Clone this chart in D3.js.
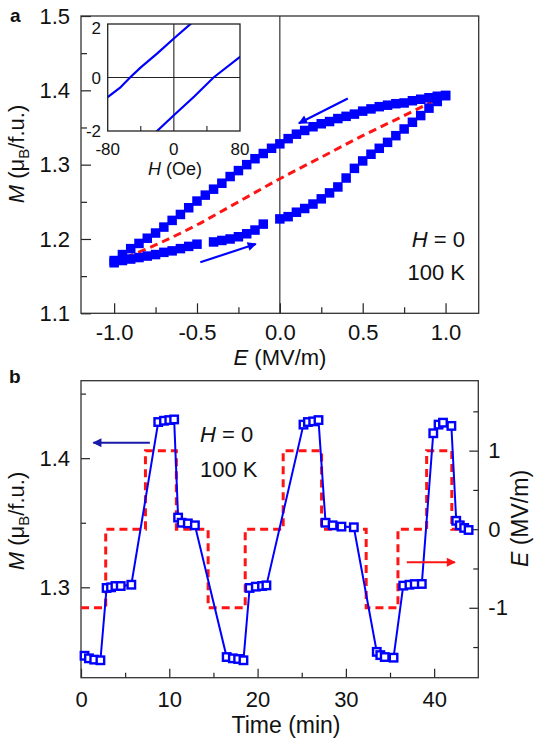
<!DOCTYPE html>
<html><head><meta charset="utf-8">
<script src="https://cdn.jsdelivr.net/npm/d3@7"></script>
<style>
body{margin:0;background:#fff}
svg{display:block}
text{font-family:"Liberation Sans",Arial,Helvetica,sans-serif;fill:#111}
</style>
</head><body>
<svg id="c" width="538" height="744"></svg>
<script>
// ---------- Panel a data ----------
const upperE = [1.00,0.95,0.90,0.85,0.80,0.75,0.70,0.65,0.60,0.55,0.50,0.45,0.40,0.35,0.30,0.25,0.20,0.15,0.10,0.05,0.00,-0.05,-0.10,-0.15,-0.20,-0.25,-0.30,-0.35,-0.40,-0.45,-0.50,-0.55,-0.60,-0.65,-0.70,-0.75,-0.80,-0.85,-0.90,-0.95,-1.00];
const upperM = [1.393,1.392,1.390,1.388,1.386,1.383,1.382,1.380,1.378,1.375,1.372,1.368,1.365,1.362,1.358,1.355,1.351,1.346,1.341,1.335,1.328,1.322,1.315,1.308,1.300,1.292,1.284,1.275,1.267,1.259,1.251,1.242,1.233,1.225,1.216,1.208,1.201,1.194,1.187,1.179,1.171];
const lowerE = [-1.00,-0.95,-0.90,-0.85,-0.80,-0.75,-0.70,-0.65,-0.60,-0.55,-0.50,-0.40,-0.35,-0.30,-0.25,-0.20,-0.15,-0.10,0.00,0.05,0.10,0.15,0.20,0.25,0.30,0.35,0.40,0.45,0.50,0.55,0.60,0.65,0.70,0.75,0.80,0.85,0.90,0.95,1.00];
const lowerM = [1.168,1.171,1.173,1.175,1.177,1.179,1.182,1.184,1.187,1.190,1.193,1.196,1.198,1.200,1.203,1.207,1.212,1.220,1.227,1.230,1.236,1.241,1.247,1.254,1.262,1.270,1.282,1.295,1.305,1.314,1.322,1.330,1.339,1.348,1.357,1.366,1.376,1.385,1.393];
const avgE = [-1.0,-0.75,-0.5,-0.25,0.0,0.25,0.5,0.75,0.975];
const avgM = [1.169,1.192,1.219,1.250,1.281,1.310,1.339,1.366,1.391];
const xTicksA = [-1.0,-0.5,0.0,0.5,1.0];
const xMinorA = [-0.75,-0.25,0.25,0.75];
const yTicksA = [1.1,1.2,1.3,1.4,1.5];
const yMinorA = [1.15,1.25,1.35,1.45];
// arrows (data coords) [E0,M0,E1,M1]
const arrowsA = [[0.41,1.389,0.115,1.3557],[-0.48,1.1686,-0.145,1.1933]];

// ---------- Inset data ----------
const insetUpH = [-85,-80,-65,-53,-40,-20,0,22];
const insetUpM = [-0.87,-0.73,-0.38,0.0,0.38,0.90,1.46,2.05];
const insetLoH = [-22,0,25,48,80,85];
const insetLoM = [-2.05,-1.41,-0.70,0.0,0.77,0.89];
const insetXTicks = [-80,0,80];
const insetXMinor = [-40,40];
const insetYTicks = [-2,0,2];

// ---------- Panel b data ----------
const timeB = [0.4,0.9,1.5,2.2, 2.9,3.4,3.9,4.5,5.7, 8.75,9.4,10.0,10.55, 11.0,11.4,12.1,12.9, 16.5,17.2,17.8,18.4, 19.1,19.8,20.5,21.0, 25.2,25.7,26.3,26.9, 27.7,28.5,29.5,30.9, 33.5,33.9,34.4,35.4, 36.5,37.2,37.8,38.6, 39.9,40.5,41.0,41.95, 42.5,42.9,43.4,43.9];
const magB  = [1.247,1.245,1.244,1.2435, 1.2995,1.300,1.301,1.301,1.302, 1.428,1.429,1.4295,1.430, 1.354,1.350,1.3495,1.348, 1.246,1.245,1.2445,1.2435, 1.2995,1.3005,1.301,1.3015, 1.426,1.428,1.4285,1.4295, 1.350,1.348,1.347,1.3465, 1.250,1.2475,1.246,1.2455, 1.3013,1.302,1.3025,1.3026, 1.4193,1.426,1.4275,1.425, 1.3515,1.348,1.346,1.3444];
const stepT = [0,2.8,7.3,10.8,14.4,18.6,22.9,27.25,32.3,35.9,39.15,42.0,44.25];
const stepE = [-1,0,1,0,-1,0,1,0,-1,0,1,0,0];
const xTicksB = [0,10,20,30,40];
const xMinorB = [5,15,25,35];
const yTicksBL = [1.3,1.4];
const yMinorBL = [1.25,1.35,1.45];
const yTicksBR = [-1,0,1];
const yMinorBR = [-1.5,-0.5,0.5,1.5];
const arrowBL = [7.8,1.412,1.4,1.412];
const arrowBR = [36.9,-0.42,42.35,-0.42];

// ---------- Drawing ----------
const svg = d3.select("#c");
const BLUE = "#0000ff", RED = "#ff1414", AX = "#222";
const defs = svg.append("defs");
function marker(id,color,w,h){
  defs.append("marker").attr("id",id).attr("viewBox","0 0 10 10").attr("refX",9).attr("refY",5)
    .attr("markerWidth",w).attr("markerHeight",h).attr("orient","auto").attr("markerUnits","userSpaceOnUse")
    .append("path").attr("d","M0,0L10,5L0,10Z").attr("fill",color);
}
marker("ab",BLUE,13,9); marker("abl","#1a1aa8",13,9); marker("ar",RED,13,9);

function drawAxis(parent, gen, scale, majors, minors, len, minLen, fmt, pad, fs){
  const gM = parent.append("g").call(gen(scale).tickValues(majors).tickSize(-len).tickPadding(pad).tickFormat(fmt));
  const gm = parent.append("g").call(gen(scale).tickValues(minors).tickSize(-minLen).tickFormat(""));
  [gM,gm].forEach(g=>{g.select(".domain").remove(); g.selectAll("line").attr("stroke",AX).attr("stroke-width",1.2);});
  gM.selectAll("text").attr("font-size",fs);
  return gM;
}
const f1 = d=>d.toFixed(1), f0 = d=>String(d);

// ===== Panel a =====
const xA = d3.scaleLinear([-1.2,1.2],[81,478.7]);
const yA = d3.scaleLinear([1.1,1.5],[313.3,16]);
const gA = svg.append("g");
drawAxis(gA.append("g").attr("transform",`translate(0,${yA(1.1)})`), d3.axisBottom, xA, xTicksA, xMinorA, 10, 6, f1, 11, 22);
drawAxis(gA.append("g").attr("transform",`translate(${xA(-1.2)},0)`), d3.axisLeft, yA, yTicksA, yMinorA, 10, 6, f1, 11, 22);
// zero line
gA.append("line").attr("x1",xA(0)).attr("x2",xA(0)).attr("y1",yA(1.1)).attr("y2",yA(1.5)).attr("stroke",AX).attr("stroke-width",1.1);
// frame
gA.append("rect").attr("x",xA(-1.2)).attr("y",yA(1.5)).attr("width",xA(1.2)-xA(-1.2)).attr("height",yA(1.1)-yA(1.5))
  .attr("fill","none").attr("stroke","#333").attr("stroke-width",1.3);
// average dashed
gA.append("path").datum(avgE.map((e,i)=>[e,avgM[i]]))
  .attr("d",d3.line().x(d=>xA(d[0])).y(d=>yA(d[1])).curve(d3.curveMonotoneX))
  .attr("fill","none").attr("stroke",RED).attr("stroke-width",3).attr("stroke-dasharray","8,5");
// squares
const sq = 9.5;
const ptsA = upperE.map((e,i)=>[e,upperM[i]]).concat(lowerE.map((e,i)=>[e,lowerM[i]]));
gA.append("g").selectAll("rect").data(ptsA).join("rect")
  .attr("x",d=>xA(d[0])-sq/2).attr("y",d=>yA(d[1])-sq/2).attr("width",sq).attr("height",sq).attr("fill",BLUE);
// arrows
arrowsA.forEach(a=>{
  gA.append("line").attr("x1",xA(a[0])).attr("y1",yA(a[1])).attr("x2",xA(a[2])).attr("y2",yA(a[3]))
    .attr("stroke",BLUE).attr("stroke-width",2.2).attr("marker-end","url(#ab)");
});
// labels
const tA = gA.append("text").attr("x",465).attr("y",246.7).attr("text-anchor","end").attr("font-size",22);
tA.append("tspan").attr("font-style","italic").text("H");
tA.append("tspan").text(" = 0");
gA.append("text").attr("x",465).attr("y",280).attr("text-anchor","end").attr("font-size",22).text("100 K");
const xtA = gA.append("text").attr("x",280).attr("y",365).attr("text-anchor","middle").attr("font-size",22);
xtA.append("tspan").attr("font-style","italic").text("E");
xtA.append("tspan").text(" (MV/m)");
function mTitle(parent,x,y){
  const t = parent.append("text").attr("transform",`translate(${x},${y}) rotate(-90)`).attr("text-anchor","middle").attr("font-size",22);
  t.append("tspan").attr("font-style","italic").text("M");
  t.append("tspan").text(" (\u03bc");
  t.append("tspan").attr("font-size",15).attr("dy",5).text("B");
  t.append("tspan").attr("dy",-5).text("/f.u.)");
}
mTitle(gA,24,154);
svg.append("text").attr("x",10).attr("y",22).attr("font-size",19).attr("font-weight","bold").text("a");

// ===== Inset =====
const xI = d3.scaleLinear([-80,80],[107.7,240]);
const yI = d3.scaleLinear([-2,2],[131,24]);
const gI = svg.append("g");
gI.append("rect").attr("x",xI(-80)).attr("y",yI(2)).attr("width",xI(80)-xI(-80)).attr("height",yI(-2)-yI(2)).attr("fill","#fff");
defs.append("clipPath").attr("id","ic").append("rect").attr("x",xI(-80)).attr("y",yI(2)).attr("width",xI(80)-xI(-80)).attr("height",yI(-2)-yI(2));
gI.append("line").attr("x1",xI(0)).attr("x2",xI(0)).attr("y1",yI(-2)).attr("y2",yI(2)).attr("stroke",AX).attr("stroke-width",1.1);
gI.append("line").attr("x1",xI(-80)).attr("x2",xI(80)).attr("y1",yI(0)).attr("y2",yI(0)).attr("stroke",AX).attr("stroke-width",1.1);
gI.append("g").selectAll("line").data(insetXMinor).join("line")
  .attr("x1",d=>xI(d)).attr("x2",d=>xI(d)).attr("y1",yI(-2)).attr("y2",yI(-2)-5).attr("stroke",AX).attr("stroke-width",1.1);
const lineI = d3.line().x(d=>xI(d[0])).y(d=>yI(d[1]));
const gIc = gI.append("g").attr("clip-path","url(#ic)");
gIc.append("path").attr("d",lineI(insetUpH.map((h,i)=>[h,insetUpM[i]]))).attr("fill","none").attr("stroke",BLUE).attr("stroke-width",2.2);
gIc.append("path").attr("d",lineI(insetLoH.map((h,i)=>[h,insetLoM[i]]))).attr("fill","none").attr("stroke",BLUE).attr("stroke-width",2.2);
gI.append("rect").attr("x",xI(-80)).attr("y",yI(2)).attr("width",xI(80)-xI(-80)).attr("height",yI(-2)-yI(2))
  .attr("fill","none").attr("stroke","#222").attr("stroke-width",1.3);
gI.append("g").selectAll("text").data(insetXTicks).join("text")
  .attr("x",d=>xI(d)).attr("y",155).attr("text-anchor","middle").attr("font-size",17).text(f0);
gI.append("g").selectAll("text").data(insetYTicks).join("text")
  .attr("x",101).attr("y",d=>yI(d)+ (d===2?10:6)).attr("text-anchor","end").attr("font-size",17).text(f0);
const hI = gI.append("text").attr("x",175).attr("y",175).attr("text-anchor","middle").attr("font-size",18);
hI.append("tspan").attr("font-style","italic").text("H");
hI.append("tspan").text(" (Oe)");

// ===== Panel b =====
const xB = d3.scaleLinear([0,45],[81,478.3]);
const yBL = d3.scaleLinear([1.23,1.46],[677.7,380.7]);
const yBR = d3.scaleLinear([-1.89,1.89],[677.7,380.7]);
const gB = svg.append("g");
drawAxis(gB.append("g").attr("transform",`translate(0,${yBL(1.23)})`), d3.axisBottom, xB, xTicksB, xMinorB, 9, 5, f0, 13.5, 22);
drawAxis(gB.append("g").attr("transform",`translate(${xB(0)},0)`), d3.axisLeft, yBL, yTicksBL, yMinorBL, 9, 5, f1, 11, 22);
drawAxis(gB.append("g").attr("transform",`translate(${xB(45)},0)`), d3.axisRight, yBR, yTicksBR, yMinorBR, 9, 5, f0, 10, 22);
gB.append("rect").attr("x",xB(0)).attr("y",yBL(1.46)).attr("width",xB(45)-xB(0)).attr("height",yBL(1.23)-yBL(1.46))
  .attr("fill","none").attr("stroke","#333").attr("stroke-width",1.3);
// E step dashed
gB.append("path").datum(stepT.map((t,i)=>[t,stepE[i]]))
  .attr("d",d3.line().x(d=>xB(d[0])).y(d=>yBR(d[1])).curve(d3.curveStepAfter))
  .attr("fill","none").attr("stroke",RED).attr("stroke-width",3).attr("stroke-dasharray","8,5");
// M line + open squares
const ptsB = timeB.map((t,i)=>[t,magB[i]]);
gB.append("path").datum(ptsB).attr("d",d3.line().x(d=>xB(d[0])).y(d=>yBL(d[1])))
  .attr("fill","none").attr("stroke",BLUE).attr("stroke-width",2);
const sb = 7.5;
gB.append("g").selectAll("rect").data(ptsB).join("rect")
  .attr("x",d=>xB(d[0])-sb/2).attr("y",d=>yBL(d[1])-sb/2).attr("width",sb).attr("height",sb)
  .attr("fill","#fff").attr("stroke",BLUE).attr("stroke-width",2.4);
// arrows
gB.append("line").attr("x1",xB(arrowBL[0])).attr("y1",yBL(arrowBL[1])).attr("x2",xB(arrowBL[2])).attr("y2",yBL(arrowBL[3]))
  .attr("stroke","#1a1aa8").attr("stroke-width",2).attr("marker-end","url(#abl)");
gB.append("line").attr("x1",xB(arrowBR[0])).attr("y1",yBR(arrowBR[1])).attr("x2",xB(arrowBR[2])).attr("y2",yBR(arrowBR[3]))
  .attr("stroke",RED).attr("stroke-width",2).attr("marker-end","url(#ar)");
const tB = gB.append("text").attr("x",200).attr("y",441.5).attr("font-size",22);
tB.append("tspan").attr("font-style","italic").text("H");
tB.append("tspan").text(" = 0");
gB.append("text").attr("x",200).attr("y",477).attr("font-size",22).text("100 K");
gB.append("text").attr("x",286).attr("y",733).attr("text-anchor","middle").attr("font-size",23).text("Time (min)");
mTitle(gB,24,521);
const eR = gB.append("text").attr("transform","translate(528,518.5) rotate(-90)").attr("text-anchor","middle").attr("font-size",23);
eR.append("tspan").attr("font-style","italic").text("E");
eR.append("tspan").text(" (MV/m)");
svg.append("text").attr("x",9).attr("y",383).attr("font-size",19).attr("font-weight","bold").text("b");
</script>
</body></html>
